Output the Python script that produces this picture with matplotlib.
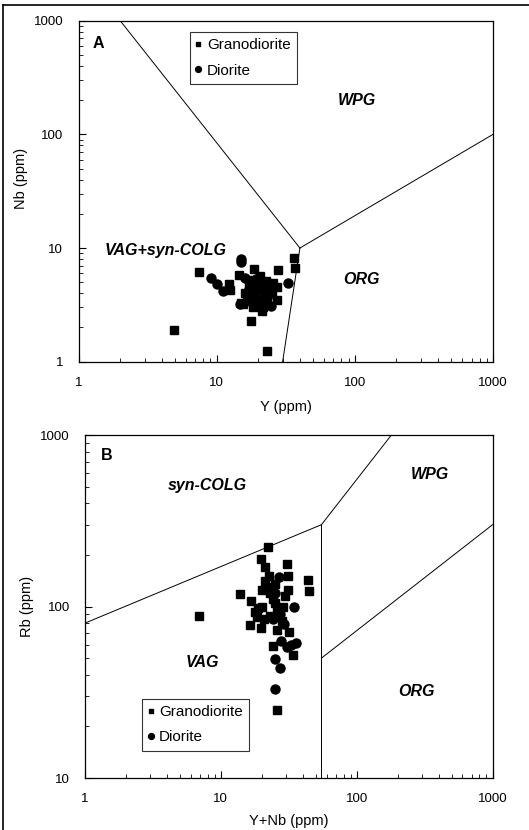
import matplotlib
matplotlib.use('Agg')
import matplotlib.pyplot as plt
from matplotlib.lines import Line2D
from matplotlib.ticker import LogLocator, NullFormatter, FixedLocator, FixedFormatter

plt.rcParams['font.family'] = ['Liberation Sans', 'DejaVu Sans']

# Panel A: Y vs Nb
a_gd_y = [4.9, 7.5, 23.2, 17.8, 21.1, 36.5, 37, 27.7, 27.4, 27.4, 18.5, 20.5, 14.4, 12.2,
          12.4, 15.5, 16.5, 17.4, 18.4, 19.4, 20.3, 21.3, 22.3, 23.2, 24.2, 25.2, 17.9, 17, 16, 19.4,
          21.8, 15, 18.4, 25.7, 22.8]
a_gd_nb = [1.9, 6.2, 1.25, 2.3, 2.8, 8.2, 6.7, 6.4, 4.5, 3.5, 6.5, 5.7, 5.8, 4.8,
           4.3, 3.2, 3.5, 3.9, 4.2, 4.6, 5.0, 4.4, 3.8, 4.2, 4.6, 4.0, 5.2, 4.7, 4.0, 3.3,
           3.0, 3.3, 3.0, 4.9, 5.1]
a_di_y = [9.1, 10, 11.1, 15, 15, 32.6, 24.6, 14.8, 17, 18.9, 20.3, 21.3, 19.4, 17.4, 23.2, 16]
a_di_nb = [5.5, 4.8, 4.15, 8.0, 7.5, 4.9, 3.1, 3.2, 4.4, 3.8, 4.3, 3.5, 5.3, 3.4, 3.6, 5.5]

# Panel B: Y+Nb vs Rb
b_gd_ynb = [6.9, 22.4, 19.7, 21.1, 30.8, 31, 44, 44.5, 13.8, 16.7, 31, 29.5, 16.4, 19.7,
            18.5, 17.9, 20, 24, 31.5, 33.7, 26, 23, 26, 21.2, 22.1, 23, 24, 25, 26, 27,
            28, 20.2, 22.6, 25, 28.8, 18.8, 20.7]
b_gd_rb = [88, 221, 188, 171, 178, 151, 143, 123, 119, 107, 125, 115, 78, 75,
           87, 93, 100, 59, 71, 52, 25, 88, 73, 140, 130, 120, 110, 105, 95, 90,
           82, 125, 150, 135, 100, 98, 85]
b_di_ynb = [34.4, 25.2, 27.1, 25.2, 27.8, 30.7, 33.1, 35.5, 26.6, 29, 27.4, 25, 24]
b_di_rb = [100, 49.6, 44, 32.9, 63, 58, 60, 61, 148, 79, 91, 120, 85]

# discrimination boundaries (Pearce et al. 1984)
a_lines = [([2, 40], [1000, 10]), ([40, 1000], [10, 100]), ([40, 30], [10, 1])]
b_lines = [([1, 55], [80, 300]), ([55, 55], [300, 10]), ([55, 180], [300, 1000]),
           ([55, 1000], [50, 300])]

W, H = 529, 830
fig = plt.figure(figsize=(W / 100, H / 100), dpi=100)
# scanned page frame (top and left edges)
fig.add_artist(Line2D([3 / W, 1], [1 - 4.7 / H, 1 - 4.7 / H], transform=fig.transFigure,
                      color='black', lw=1.2))
fig.add_artist(Line2D([3 / W, 3 / W], [0, 1 - 4.7 / H], transform=fig.transFigure,
                      color='black', lw=1.2))

axA = fig.add_axes([78.6 / W, 1 - 361.7 / H, 414.4 / W, 341 / H])
axB = fig.add_axes([85 / W, 1 - 778 / H, 407.6 / W, 343 / H])


def style(ax, ymin, ymax):
    ax.set_xscale('log')
    ax.set_yscale('log')
    ax.set_xlim(1, 1000)
    ax.set_ylim(ymin, ymax)
    decs_x = [1, 10, 100, 1000]
    ax.xaxis.set_major_locator(FixedLocator(decs_x))
    ax.xaxis.set_major_formatter(FixedFormatter([str(d) for d in decs_x]))
    decs_y = [d for d in [1, 10, 100, 1000] if ymin <= d <= ymax]
    ax.yaxis.set_major_locator(FixedLocator(decs_y))
    ax.yaxis.set_major_formatter(FixedFormatter([str(d) for d in decs_y]))
    for axis in (ax.xaxis, ax.yaxis):
        axis.set_minor_locator(LogLocator(base=10, subs=range(2, 10)))
        axis.set_minor_formatter(NullFormatter())
    ax.tick_params(which='major', direction='in', length=5, width=0.8, labelsize=9.5, pad=11)
    ax.tick_params(which='minor', direction='in', length=3, width=0.6)
    for s in ax.spines.values():
        s.set_linewidth(0.9)


tb = dict(fontsize=11.5, fontweight='bold', fontstyle='italic', ha='center', va='center')
leg_kw = dict(loc='upper left', bbox_transform=fig.transFigure, frameon=True, fancybox=False,
              edgecolor='black', fontsize=11, markerscale=0.65, handlelength=0.3,
              handletextpad=0.4, borderaxespad=0)

style(axA, 1, 1000)
for xs, ys in a_lines:
    axA.plot(xs, ys, color='black', lw=0.7)
axA.plot(a_gd_y, a_gd_nb, 's', color='black', ms=5.5, label='Granodiorite', clip_on=False)
axA.plot(a_di_y, a_di_nb, 'o', color='black', ms=6.5, label='Diorite', clip_on=False)
axA.set_xlabel('Y (ppm)', fontsize=10.5, labelpad=8)
axA.set_ylabel('Nb (ppm)', fontsize=10.5)
axA.yaxis.set_label_coords(-0.123, 0.536)
axA.text(1.27, 626, 'A', fontsize=11.5, fontweight='bold', va='center')
axA.text(104, 198, 'WPG', **tb)
axA.text(4.28, 9.6, 'VAG+syn-COLG', **tb)
axA.text(111, 5.24, 'ORG', **tb)
legA = axA.legend(bbox_to_anchor=(190 / W, 1 - 32 / H), labelspacing=0.75, borderpad=0.4,
                  **leg_kw)
legA.get_frame().set_linewidth(0.8)

style(axB, 10, 1000)
for xs, ys in b_lines:
    axB.plot(xs, ys, color='black', lw=0.7)
axB.plot(b_gd_ynb, b_gd_rb, 's', color='black', ms=5.5, label='Granodiorite', clip_on=False)
axB.plot(b_di_ynb, b_di_rb, 'o', color='black', ms=6.5, label='Diorite', clip_on=False)
axB.set_xlabel('Y+Nb (ppm)', fontsize=10.5, labelpad=6)
axB.set_ylabel('Rb (ppm)', fontsize=10.5)
axB.yaxis.set_label_coords(-0.125, 0.5)
axB.text(1.3, 764, 'B', fontsize=11.5, fontweight='bold', va='center')
axB.text(7.9, 511, 'syn-COLG', **tb)
axB.text(346, 585, 'WPG', **tb)
axB.text(7.3, 47, 'VAG', **tb)
axB.text(277, 32, 'ORG', **tb)
legB = axB.legend(bbox_to_anchor=(142 / W, 1 - 699 / H), labelspacing=0.7, borderpad=0.42,
                  **leg_kw)
legB.get_frame().set_linewidth(0.8)

fig.savefig('out.png', dpi=100)
